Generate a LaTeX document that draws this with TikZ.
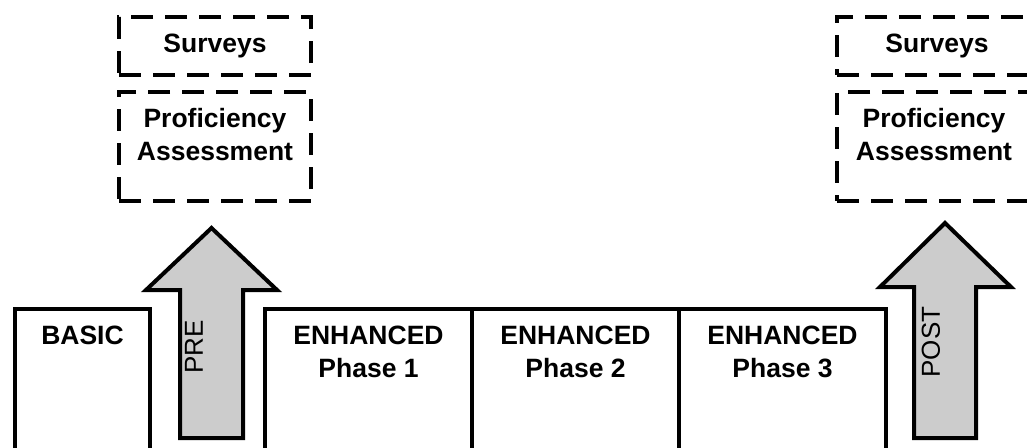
\documentclass[tikz,border=0pt]{standalone}
\usepackage{fontspec}
\setmainfont{Liberation Sans}
\usetikzlibrary{positioning}

\begin{document}
\begin{tikzpicture}[x=1pt,y=-1pt]
\tikzstyle{stage} = [draw,line width=4pt,outer sep=0pt,inner sep=0pt,minimum height=160pt]
\tikzstyle{survey} = [draw,line width=4.5pt,dash pattern=on 22pt off 12pt,outer sep=0pt,inner sep=0pt,minimum width=192pt]
\tikzstyle{btext} = [font=\fontsize{26.5}{33}\selectfont\bfseries,align=center,inner sep=0pt]
\tikzstyle{rtext} = [font=\fontsize{26}{30}\selectfont,rotate=90,inner sep=0pt]
\tikzstyle{upper} = [draw,fill=black!20,line width=4pt,line join=miter]

\useasboundingbox (0,0) rectangle (1027,447);
\clip (0,0) rectangle (1027,447);

% bottom row
\node[stage,minimum width=135pt,anchor=north] (basic) at (82.5,309) {};
\node[btext,below=17pt of basic.north] (basict) {BASIC};

\node[stage,minimum width=207pt,anchor=north west] (enh1) at (265,309) {};
\node[stage,minimum width=207pt,right=0pt of enh1] (enh2) {};
\node[stage,minimum width=207pt,right=0pt of enh2] (enh3) {};
\node[btext,below=17pt of enh1.north] (enh1t) {ENHANCED\\Phase 1};
\node[btext,below=17pt of enh2.north] (enh2t) {ENHANCED\\Phase 2};
\node[btext,below=17pt of enh3.north] (enh3t) {ENHANCED\\Phase 3};

% pre and post arrows
\draw[upper] (180,438) -- (180,290) -- (146,290) -- (211.5,228) -- (277,290) -- (243,290) -- (243,438) -- cycle;
\node[rtext] (pre) at (194,347) {PRE};
\draw[upper] (914,438) -- (914,287) -- (880,287) -- (945,223) -- (1011,287) -- (976,287) -- (976,438) -- cycle;
\node[rtext] (post) at (931,342) {POST};

% measurements
\node[survey,btext,minimum height=58pt] (surv1) at (215,46) {Surveys};
\node[survey,minimum height=109pt,below=17pt of surv1] (prof1) {};
\node[btext,below=16pt of prof1.north] (prof1t) {Proficiency\\Assessment};

\node[survey,btext,minimum height=58pt,minimum width=200pt] (surv2) at (937,46) {Surveys};
\node[survey,minimum height=109pt,minimum width=200pt,below=17pt of surv2] (prof2) {};
\node[btext,below=16pt of prof2.north,xshift=-3pt] (prof2t) {Proficiency\\Assessment};

\end{tikzpicture}
\end{document}
